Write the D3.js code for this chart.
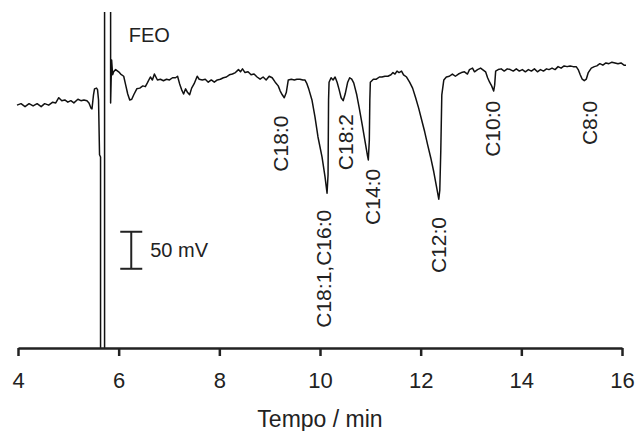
<!DOCTYPE html>
<html>
<head>
<meta charset="utf-8">
<script src="https://cdn.jsdelivr.net/npm/d3@7"></script>
<style>
  body { margin: 0; background: #fff; }
  svg { display: block; font-family: "Liberation Sans", Arial, sans-serif; }
  .trace { fill: none; stroke: #111; stroke-width: 1.5; stroke-linejoin: round; }
  .axis path, .axis line { stroke: #222; stroke-width: 2.5; }
  .axis text { font-size: 22px; fill: #222; font-family: "Liberation Sans", Arial, sans-serif; }
  .lbl { font-size: 21px; fill: #222; }
</style>
</head>
<body>
<svg id="chart"></svg>
<script>
// retention time (min) and detector signal (mV, relative to the starting baseline)
var timeMin = [3.98,4.06,4.14,4.22,4.30,4.38,4.46,4.53,4.61,4.69,4.75,4.81,4.87,4.93,4.99,5.05,5.11,5.19,5.25,5.31,5.37,5.41,5.45,5.47,5.50,5.52,5.56,5.58,5.60,5.62,5.64,5.64,5.72,5.72,5.83,5.84,5.84,5.86,5.88,
  5.90,5.94,6.00,6.04,6.10,6.14,6.18,6.22,6.26,6.30,6.36,6.42,6.48,6.53,6.57,6.63,6.67,6.71,6.77,6.83,6.89,6.95,7.01,7.07,7.13,7.17,7.21,7.25,7.29,7.33,7.37,7.41,7.45,7.50,7.56,7.60,7.66,7.72,7.78,7.84,7.90,7.96,
  8.02,8.08,8.14,8.20,8.26,8.32,8.38,8.42,8.46,8.51,8.57,8.63,8.69,8.75,8.81,8.87,8.93,8.99,9.05,9.11,9.17,9.21,9.25,9.29,9.33,9.37,9.43,9.49,9.54,9.60,9.66,9.70,9.74,9.78,9.84,9.90,9.96,
  10.04,10.10,10.14,10.16,10.17,10.18,10.22,10.26,10.30,10.34,10.38,10.42,10.46,10.50,10.55,10.59,10.63,10.67,10.73,10.78,10.84,10.90,10.94,10.96,10.98,10.99,
  11.00,11.06,11.12,11.18,11.23,11.29,11.35,11.41,11.45,11.49,11.53,11.57,11.62,11.66,11.72,11.78,11.84,11.90,11.96,
  12.02,12.08,12.14,12.20,12.26,12.32,12.36,12.38,12.40,12.42,12.46,12.51,12.57,12.63,12.69,12.75,12.81,12.87,12.93,12.97,
  13.03,13.07,13.13,13.19,13.23,13.29,13.33,13.37,13.41,13.45,13.47,13.49,13.54,13.60,13.66,13.72,13.78,13.84,13.90,13.96,
  14.02,14.08,14.14,14.20,14.26,14.32,14.38,14.44,14.50,14.55,14.61,14.67,14.73,14.79,14.85,14.91,14.97,
  15.03,15.09,15.13,15.17,15.21,15.25,15.29,15.33,15.39,15.45,15.50,15.56,15.62,15.68,15.74,15.80,15.86,15.92,15.98,16.04,16.08]
var signalMv = [-3,-1,-5,-1,-4,-1,-5,-1,-3,1,0,7,3,4,1,3,0,5,3,4,3,0,-7,-8,11,19,20,18,4,-70,-73,-400,-400,200,200,200,0,58,38,
  42,45,42,39,36,24,12,4,5,11,19,20,23,22,27,35,31,39,31,32,30,32,31,34,34,36,26,18,12,19,14,11,20,26,36,32,31,32,28,31,28,31,
  32,34,35,38,39,41,45,42,46,41,42,38,39,35,32,35,31,36,34,28,23,16,11,7,14,31,32,31,32,32,31,31,26,18,4,-19,-46,
  -73,-100,-122,-97,4,28,34,31,35,28,18,7,3,12,28,34,32,27,11,-7,-30,-54,-70,-77,-50,4,
  28,32,32,35,35,36,36,38,41,39,43,41,43,38,35,28,20,7,-7,
  -23,-39,-57,-74,-93,-115,-130,-118,-64,11,31,35,36,39,36,39,41,42,39,45,
  47,42,45,47,45,42,34,28,23,16,24,43,45,46,43,46,45,43,46,43,
  45,42,45,43,46,42,45,43,46,45,47,45,49,47,50,49,50,
  49,49,45,38,32,30,32,41,47,49,50,53,51,54,53,55,54,53,54,51,51]

// peak labels: name, retention time of label centre, label centre height (mV)
var peakNames = ["C18:0", "C18:1,C16:0", "C18:2", "C14:0", "C12:0", "C10:0", "C8:0"]
var peakTimes = [9.21, 10.06, 10.50, 11.05, 12.36, 13.43, 15.35]
var peakLabelMv = [-55, -224, -53, -127, -192, -35, -27]

var xTicks = [4, 6, 8, 10, 12, 14, 16]
var scaleBarTime = 6.25
var scaleBarTopMv = -174
var scaleBarMv = 50

var width = 637, height = 431
var svg = d3.select('#chart').attr('width', width).attr('height', height)

var x = d3.scaleLinear().domain([4, 16]).range([18, 622])
var y = d3.scaleLinear().domain([-331, 139]).range([348, 0])

svg.append('clipPath').attr('id', 'plotclip')
    .append('rect')
    .attr('x', 0).attr('y', 12)
    .attr('width', width).attr('height', y(-331) - 12)

var pts = timeMin.map(function (t, i) { return [t, signalMv[i]] })
var line = d3.line()
    .x(function (d) { return x(d[0]) })
    .y(function (d) { return y(d[1]) })

svg.append('path')
    .datum(pts)
    .attr('class', 'trace')
    .attr('clip-path', 'url(#plotclip)')
    .attr('d', line)

// x axis
var xAxis = d3.axisBottom(x)
    .tickValues(xTicks)
    .tickSizeInner(8)
    .tickSizeOuter(0)
    .tickPadding(16)
    .tickFormat(d3.format('d'))

svg.append('g')
    .attr('class', 'axis')
    .attr('transform', 'translate(0,' + y(-331) + ')')
    .call(xAxis)

svg.append('text')
    .attr('x', (x(4) + x(16)) / 2)
    .attr('y', 427)
    .attr('text-anchor', 'middle')
    .style('font-size', '23px')
    .style('fill', '#222')
    .text('Tempo / min')

// peak labels (rotated)
peakNames.forEach(function (name, i) {
    var cx = x(peakTimes[i]), cy = y(peakLabelMv[i])
    svg.append('text')
        .attr('class', 'lbl')
        .attr('transform', 'translate(' + cx + ',' + cy + ') rotate(-90)')
        .attr('text-anchor', 'middle')
        .attr('dy', '0.36em')
        .text(name)
})

svg.append('text')
    .attr('class', 'lbl')
    .attr('x', x(6.20))
    .attr('y', y(82))
    .style('font-size', '20px')
    .text('FEO')

// 50 mV scale bar
var sb = svg.append('g').attr('stroke', '#222').attr('stroke-width', 2)
var sbx = x(scaleBarTime)
sb.append('line').attr('x1', sbx).attr('x2', sbx)
    .attr('y1', y(scaleBarTopMv)).attr('y2', y(scaleBarTopMv - scaleBarMv))
sb.append('line').attr('x1', sbx - 11).attr('x2', sbx + 11)
    .attr('y1', y(scaleBarTopMv)).attr('y2', y(scaleBarTopMv))
sb.append('line').attr('x1', sbx - 11).attr('x2', sbx + 11)
    .attr('y1', y(scaleBarTopMv - scaleBarMv)).attr('y2', y(scaleBarTopMv - scaleBarMv))

svg.append('text')
    .attr('class', 'lbl')
    .attr('x', sbx + 19)
    .attr('y', y(scaleBarTopMv - scaleBarMv / 2))
    .attr('dy', '0.36em')
    .style('font-size', '20px')
    .text('50 mV')
</script>
</body>
</html>
